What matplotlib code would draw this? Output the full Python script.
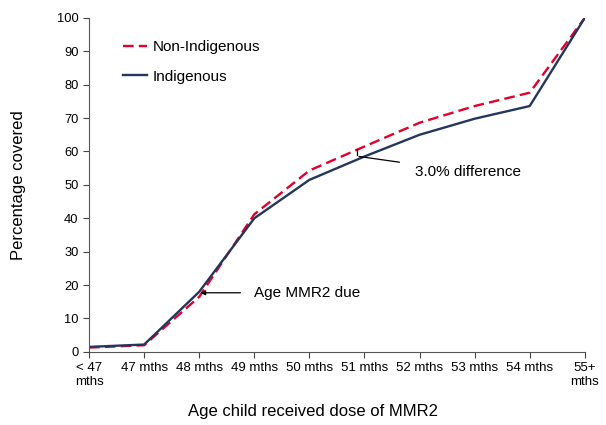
import matplotlib
matplotlib.use("Agg")
import matplotlib.pyplot as plt

plt.rcParams['font.family'] = ['Liberation Sans', 'DejaVu Sans']

# age categories and coverage (%)
ages = ['< 47\nmths', '47 mths', '48 mths', '49 mths', '50 mths', '51 mths',
        '52 mths', '53 mths', '54 mths', '55+\nmths']
non_indigenous = [1.3, 2.0, 16.5, 41.2, 54.3, 61.5, 68.6, 73.6, 77.6, 100]
indigenous = [1.5, 2.2, 18.0, 40.0, 51.5, 58.5, 65.0, 69.8, 73.6, 100]

fig = plt.figure(figsize=(6.06, 4.25), dpi=100)
ax = fig.add_axes([0.147, 0.172, 0.818, 0.786])

x = list(range(len(ages)))
ax.plot(x, non_indigenous, color='#e4002b', linestyle=(0, (4.5, 2.2)), lw=1.7,
        label='Non-Indigenous')
ax.plot(x, indigenous, color='#24365c', linestyle='-', lw=1.7, label='Indigenous')

ax.set_xlim(0, len(ages) - 1)
ax.set_ylim(0, 100)
ax.set_yticks(range(0, 101, 10))
ax.set_xticks(x)
ax.set_xticklabels(ages, fontsize=9.5)
ax.tick_params(axis='y', labelsize=9.3)
ax.tick_params(direction='out', length=4, color='#444444')

for s in ['top', 'right']:
    ax.spines[s].set_visible(False)
for s in ['left', 'bottom']:
    ax.spines[s].set_color('#555555')

ax.set_ylabel('Percentage covered', fontsize=12, labelpad=22)
ax.set_xlabel('Age child received dose of MMR2', fontsize=12, labelpad=14)
ax.xaxis.set_label_coords(0.452, -0.155)

leg = ax.legend(loc='upper left', bbox_to_anchor=(0.203, 0.905),
                bbox_transform=fig.transFigure, frameon=False, borderpad=0,
                borderaxespad=0, fontsize=11, handlelength=1.6,
                handletextpad=0.35, labelspacing=1.0)

# annotations
ax.annotate('Age MMR2 due', xy=(2.02, indigenous[2] - 0.3), xytext=(3.0, indigenous[2] - 0.3),
            fontsize=11, va='center',
            arrowprops=dict(arrowstyle='-|>', color='black', lw=0.9,
                            mutation_scale=7, shrinkA=8, shrinkB=0))
ax.plot([4.87, 4.87], [indigenous[5] + 0.3, non_indigenous[5] - 0.8],
        color='black', lw=0.9)
ax.annotate('3.0% difference', xy=(4.9, indigenous[5]), xytext=(5.91, 53.9),
            fontsize=11, va='center',
            arrowprops=dict(arrowstyle='-', color='black', lw=0.9,
                            shrinkA=9, shrinkB=0))

fig.savefig('out.png', dpi=100)
